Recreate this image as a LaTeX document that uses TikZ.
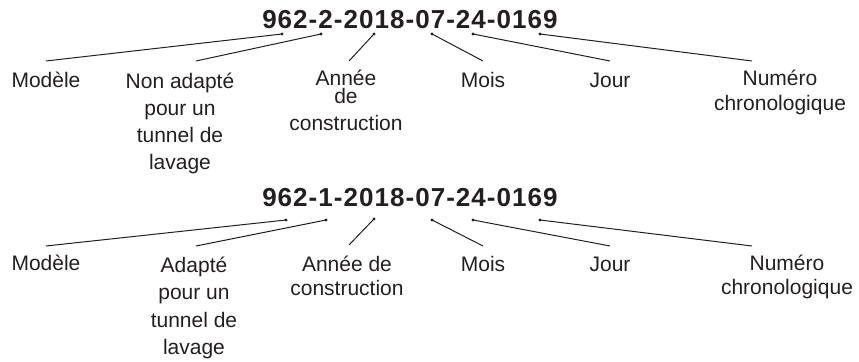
\documentclass[tikz,border=0pt]{standalone}
\usepackage{fontspec}
\setmainfont{Liberation Sans}
\newfontfamily\serialfont{Liberation Sans}[LetterSpace=4]
\definecolor{ink}{RGB}{35,31,32}

\begin{document}
\begin{tikzpicture}[x=0.5pt,y=-0.5pt,
  lbl/.style={anchor=base,align=center,inner sep=0pt,text=ink,
    font=\fontsize{10.5pt}{12.5pt}\selectfont},
  lbltall/.style={lbl,font=\fontsize{10.5pt}{13.5pt}\selectfont},
  serial/.style={anchor=base,inner sep=0pt,text=ink,
    font=\serialfont\bfseries\fontsize{13pt}{15pt}\selectfont},
  lead/.style={draw=ink,line width=0.5pt},
  dot/.style={fill=ink}]
\useasboundingbox (0,0) rectangle (859,362);

%top serial number (labels sit on the baseline of their last line)
\node[serial] (serialA) at (410,29) {962-2-2018-07-24-0169};
\coordinate (dModA) at (282,34);
\coordinate (dAdaA) at (321,34);
\coordinate (dAnnA) at (374,34);
\coordinate (dMoiA) at (432,34);
\coordinate (dJouA) at (473,34);
\coordinate (dNumA) at (540,34);
\coordinate (eModA) at (46,61);
\coordinate (eAdaA) at (196,61);
\coordinate (eAnnA) at (349,61);
\coordinate (eMoiA) at (483,61);
\coordinate (eJouA) at (610,61);
\coordinate (eNumA) at (752,61);

\node[lbl] (modA) at (46,88) {Modèle};
\node[lbltall] (adaA) at (180,170) {Non adapté\\pour un\\tunnel de\\lavage};
\node[lbl,font=\fontsize{10.5pt}{13.5pt}\selectfont] (annA) at (346,131) {Année\\[-4.5pt]de\\construction};
\node[lbl] (moiA) at (483,88) {Mois};
\node[lbl] (jouA) at (610,88) {Jour};
\node[lbl] (numA) at (780,111) {Numéro\\chronologique};

%bottom serial number
\node[serial] (serialB) at (410,207) {962-1-2018-07-24-0169};
\coordinate (dModB) at (286,220);
\coordinate (dAdaB) at (326,220);
\coordinate (dAnnB) at (374,219);
\coordinate (dMoiB) at (432,220);
\coordinate (dJouB) at (473,220);
\coordinate (dNumB) at (540,220);
\coordinate (eModB) at (46,246);
\coordinate (eAdaB) at (196,246);
\coordinate (eAnnB) at (349,245);
\coordinate (eMoiB) at (483,246);
\coordinate (eJouB) at (610,246);
\coordinate (eNumB) at (752,246);

\node[lbl] (modB) at (46,271) {Modèle};
\node[lbl,font=\fontsize{10.5pt}{13.8pt}\selectfont] (adaB) at (194,355) {Adapté\\pour un\\tunnel de\\lavage};
\node[lbl,font=\fontsize{10.5pt}{12pt}\selectfont] (annB) at (347,296) {Année de\\construction};
\node[lbl] (moiB) at (483,272) {Mois};
\node[lbl] (jouB) at (610,272) {Jour};
\node[lbl,font=\fontsize{10.5pt}{12pt}\selectfont] (numB) at (787,295) {Numéro\\chronologique};

%leader lines
\foreach \p in {Mod,Ada,Ann,Moi,Jou,Num} {
  \foreach \r in {A,B} {
    \draw[lead] (d\p\r) -- (e\p\r);
    \fill[dot] (d\p\r) circle (1.7);
  }
}
\end{tikzpicture}
\end{document}
